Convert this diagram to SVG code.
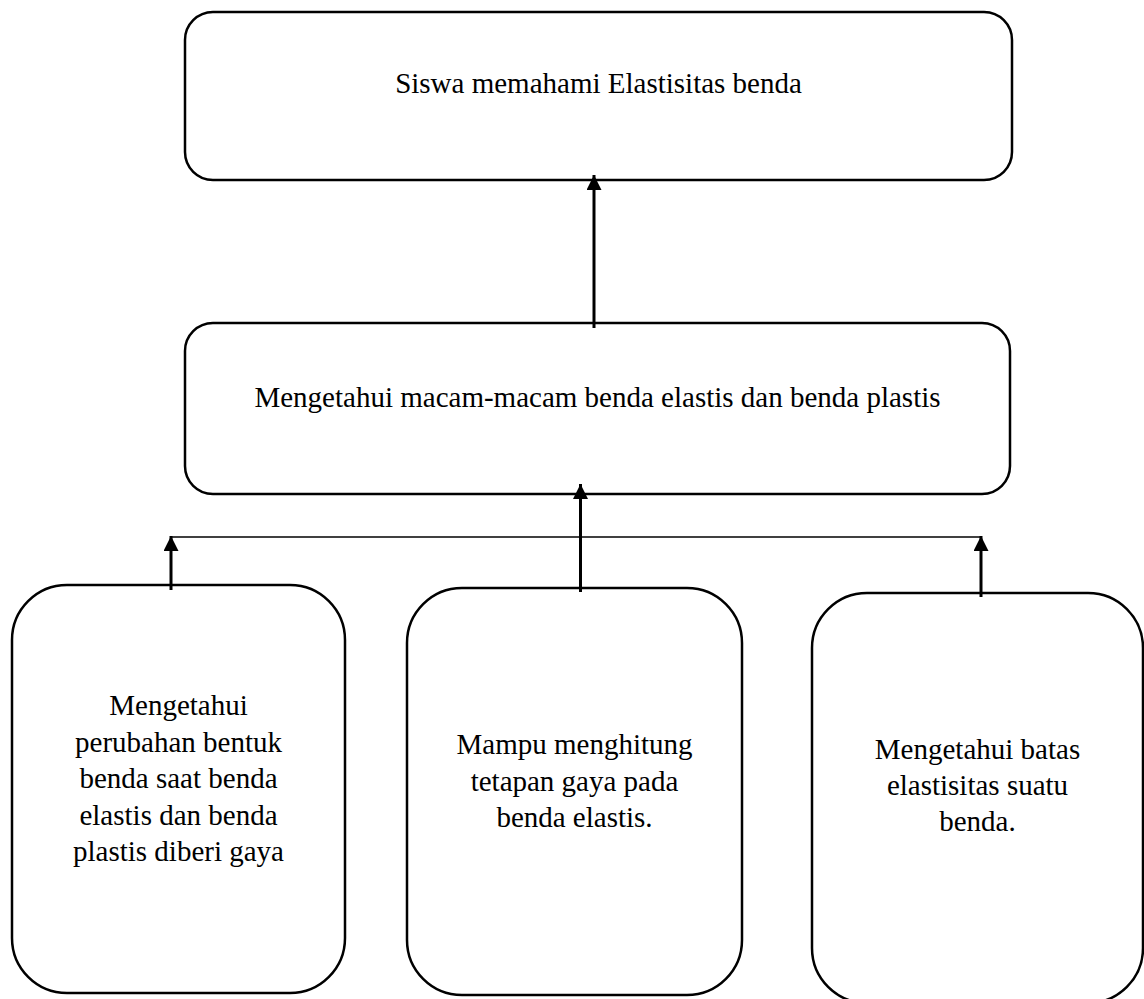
<svg xmlns="http://www.w3.org/2000/svg" width="1144" height="999" viewBox="0 0 1144 999">
<style>
.box{fill:#fff;stroke:#000;stroke-width:2.5}
.t{font-family:"Liberation Serif","Times New Roman",serif;font-size:29px;fill:#000;text-anchor:middle}
.c{stroke:#000;stroke-width:3;fill:none}
.thin{stroke:#000;stroke-width:1.3;fill:none}
</style>
<defs>
<marker id="ah" viewBox="0 0 10 10" refX="10" refY="5" markerWidth="5" markerHeight="5" markerUnits="strokeWidth" orient="auto">
<path d="M0,0 L10,5 L0,10 Z" fill="#000"/>
</marker>
</defs>
<rect width="1144" height="999" fill="#fff"/>
<g id="n1">
<rect class="box" x="185" y="12" width="827" height="168" rx="28" ry="28"/>
<text class="t" x="598.5" y="93">Siswa memahami Elastisitas benda</text>
</g>
<g id="n2">
<rect class="box" x="185" y="323" width="825" height="171" rx="28" ry="28"/>
<text class="t" x="597.5" y="407">Mengetahui macam-macam benda elastis dan benda plastis</text>
</g>
<g id="n3">
<rect class="box" x="12" y="585" width="333" height="408" rx="55" ry="55"/>
<text class="t" x="178.5" y="715">Mengetahui</text>
<text class="t" x="178.5" y="751.5">perubahan bentuk</text>
<text class="t" x="178.5" y="788">benda saat benda</text>
<text class="t" x="178.5" y="824.5">elastis dan benda</text>
<text class="t" x="178.5" y="861">plastis diberi gaya</text>
</g>
<g id="n4">
<rect class="box" x="407" y="588" width="335" height="407" rx="55" ry="55"/>
<text class="t" x="574.5" y="754">Mampu menghitung</text>
<text class="t" x="574.5" y="790.5">tetapan gaya pada</text>
<text class="t" x="574.5" y="827">benda elastis.</text>
</g>
<g id="n5">
<rect class="box" x="812" y="593" width="331" height="410" rx="55" ry="55"/>
<text class="t" x="977.5" y="759">Mengetahui batas</text>
<text class="t" x="977.5" y="795">elastisitas suatu</text>
<text class="t" x="977.5" y="831">benda.</text>
</g>
<g id="connectors">
<line class="c" x1="594" y1="328" x2="594" y2="175" marker-end="url(#ah)"/>
<line class="thin" x1="171" y1="537" x2="982" y2="537"/>
<line class="c" x1="580.5" y1="592" x2="580.5" y2="484" marker-end="url(#ah)"/>
<line class="c" x1="171" y1="590" x2="171" y2="536" marker-end="url(#ah)"/>
<line class="c" x1="981" y1="597" x2="981" y2="536" marker-end="url(#ah)"/>
</g>
</svg>
